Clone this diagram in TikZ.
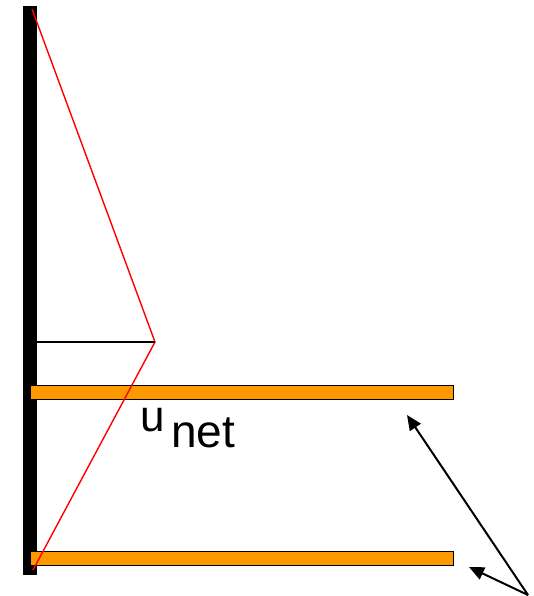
\documentclass[tikz,border=0pt]{standalone}
\usepackage{fontspec}
\setmainfont{Liberation Sans}
\usetikzlibrary{arrows.meta}
\definecolor{plateorange}{HTML}{FF9900}

\begin{document}
\begin{tikzpicture}[
  x=1pt, y=-1pt,
  >={Triangle[length=15pt, width=13pt]},
  wall/.style={rectangle, fill=black, inner sep=0pt, minimum width=14pt},
  plate/.style={rectangle, draw=black, line width=1pt, fill=plateorange,
                inner sep=0pt, minimum width=423pt, minimum height=14pt},
  ray/.style={draw=red, line width=1.4pt},
  arr/.style={->, line width=2pt, draw=black}
]
\useasboundingbox (0,0) rectangle (534,596);

% Wall and plates
\node[wall, minimum height=569pt] (wall) at (30,290.5) {};
\node[plate] (upper) at (241.5,392) {};
\node[plate] (lower) at (241.5,558.5) {};

% Ray path
\coordinate (top) at (32,9);
\coordinate (apex) at (155,342);
\coordinate (foot) at (33,570);
\coordinate (tick) at (37,342);
\draw[ray] (top) -- (apex) -- (foot);
\draw[line width=2pt] (tick) -- (apex);

% Label
\node[anchor=base west, inner sep=0pt, font=\fontsize{44}{46}\selectfont] (u) at (140,431) {u};
\node[anchor=base west, inner sep=0pt, font=\fontsize{46}{48}\selectfont] (net) at (171,447) {net};

% Pointers
\coordinate (src) at (528,595);
\coordinate (tipa) at (407,415);
\coordinate (tipb) at (469,567);
\draw[arr] (src) -- (tipa);
\draw[arr] (src) -- (tipb);

\end{tikzpicture}
\end{document}
